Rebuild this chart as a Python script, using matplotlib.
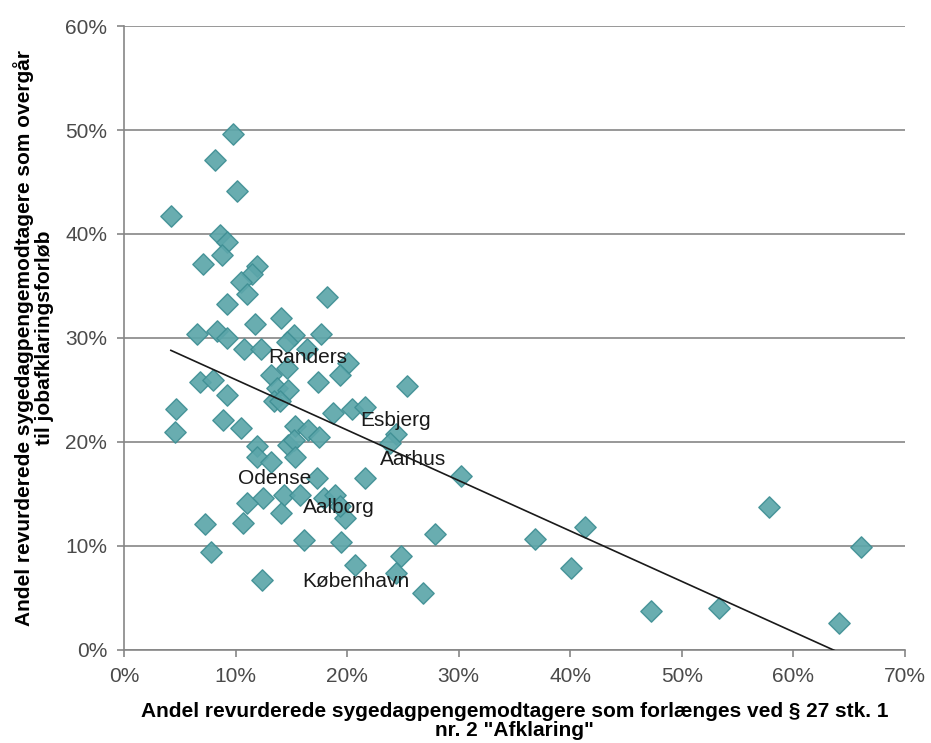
import numpy as np
import matplotlib
matplotlib.use("Agg")
import matplotlib.pyplot as plt
from matplotlib.ticker import FuncFormatter

# andel forlænget ved § 27 stk. 1 nr. 2 (x) og andel overgået til jobafklaring (y), i procent
x_afklaring = [9.8, 8.2, 10.1, 4.2, 8.6, 9.25, 8.8, 7.05, 11.9, 11.5, 10.5, 11.0, 9.2, 18.2,
               14.05, 11.7, 6.5, 8.3, 9.2, 15.2, 17.65, 14.6, 10.8, 12.3, 16.4, 20.1, 19.4,
               13.2, 14.6, 17.4, 6.8, 8.0, 9.2, 13.7, 14.7, 13.4, 14.0, 4.7, 18.75, 20.4,
               21.6, 8.9, 10.5, 4.6, 15.3, 16.5, 17.5, 14.7, 15.2, 11.9, 11.9, 13.2, 15.3,
               17.3, 21.6, 12.5, 11.0, 14.3, 15.8, 17.9, 18.9, 14.1, 10.7, 7.25, 19.8, 16.1,
               19.45, 7.8, 20.7, 12.4, 25.4, 24.4, 23.8, 30.25, 19.4, 27.9, 24.8, 24.4, 26.8,
               36.8, 41.3, 40.1, 47.2, 53.3, 57.8, 66.1, 64.1]
y_jobafklaring = [49.6, 47.1, 44.1, 41.7, 39.9, 39.2, 38.0, 37.1, 36.9, 36.2, 35.4, 34.2, 33.3, 33.9,
                  31.9, 31.3, 30.4, 30.7, 30.0, 30.3, 30.4, 29.6, 28.9, 28.9, 28.9, 27.6, 26.4,
                  26.4, 27.1, 25.8, 25.8, 26.0, 24.5, 25.2, 25.0, 23.9, 23.9, 23.2, 22.8, 23.2,
                  23.4, 22.1, 21.3, 21.0, 21.5, 21.2, 20.5, 19.7, 20.2, 19.6, 18.6, 18.1, 18.6,
                  16.5, 16.5, 14.6, 14.1, 14.9, 14.9, 14.6, 14.9, 13.2, 12.2, 12.1, 12.7, 10.6,
                  10.4, 9.4, 8.2, 6.7, 25.4, 20.8, 19.9, 16.7, 13.8, 11.15, 9.0, 7.4, 5.45,
                  10.7, 11.8, 7.9, 3.75, 4.0, 13.75, 9.9, 2.6]

# kommuner med navn på
byer = ["Randers", "Esbjerg", "Aarhus", "Odense", "Aalborg", "København"]
by_x = [16.5, 24.3, 25.9, 13.5, 19.3, 20.8]
by_y = [28.1, 22.1, 18.3, 16.5, 13.7, 6.6]

plt.rcParams['font.family'] = ['Liberation Sans', 'DejaVu Sans']

fig = plt.figure(figsize=(9.31, 7.43), dpi=100)
ax = fig.add_axes([0.1332, 0.1252, 0.972 - 0.1332, 0.965 - 0.1252])

ax.scatter(x_afklaring, y_jobafklaring, marker='D', s=118, facecolor='#5ca6aa',
           edgecolor='#3f8f94', linewidth=1, alpha=0.92, zorder=3)

# lineær tendenslinje
a, b = np.polyfit(x_afklaring, y_jobafklaring, 1)
tx = np.linspace(min(x_afklaring), max(x_afklaring), 200)
ax.plot(tx, a * tx + b, color='#1a1a1a', linewidth=1.2, zorder=4)

for navn, bx, by in zip(byer, by_x, by_y):
    ax.text(bx, by, navn, ha='center', va='center', fontsize=15, color='#1a1a1a', zorder=5)

ax.set_xlim(0, 70)
ax.set_ylim(0, 60)
ax.set_xticks(range(0, 71, 10))
ax.set_yticks(range(0, 61, 10))
pct = FuncFormatter(lambda v, p: f"{v:.0f}%")
ax.xaxis.set_major_formatter(pct)
ax.yaxis.set_major_formatter(pct)
ax.tick_params(axis='both', colors='#868686', labelcolor='#4a4a4a', labelsize=15,
               length=5, width=1.2, direction='out', pad=7)
ax.grid(axis='y', color='#868686', linewidth=1.2)
ax.set_axisbelow(True)
for s in ['top', 'right']:
    ax.spines[s].set_visible(False)
for s in ['left', 'bottom']:
    ax.spines[s].set_color('#868686')
    ax.spines[s].set_linewidth(1.2)

ax.set_xlabel('Andel revurderede sygedagpengemodtagere som forlænges ved § 27 stk. 1\nnr. 2 "Afklaring"',
              fontsize=15, fontweight='bold', linespacing=0.95, labelpad=12)
ax.set_ylabel('Andel revurderede sygedagpengemodtagere som overgår\ntil jobafklaringsforløb',
              fontsize=15, fontweight='bold', linespacing=1.05, labelpad=8)

fig.savefig('out.png', dpi=100)
